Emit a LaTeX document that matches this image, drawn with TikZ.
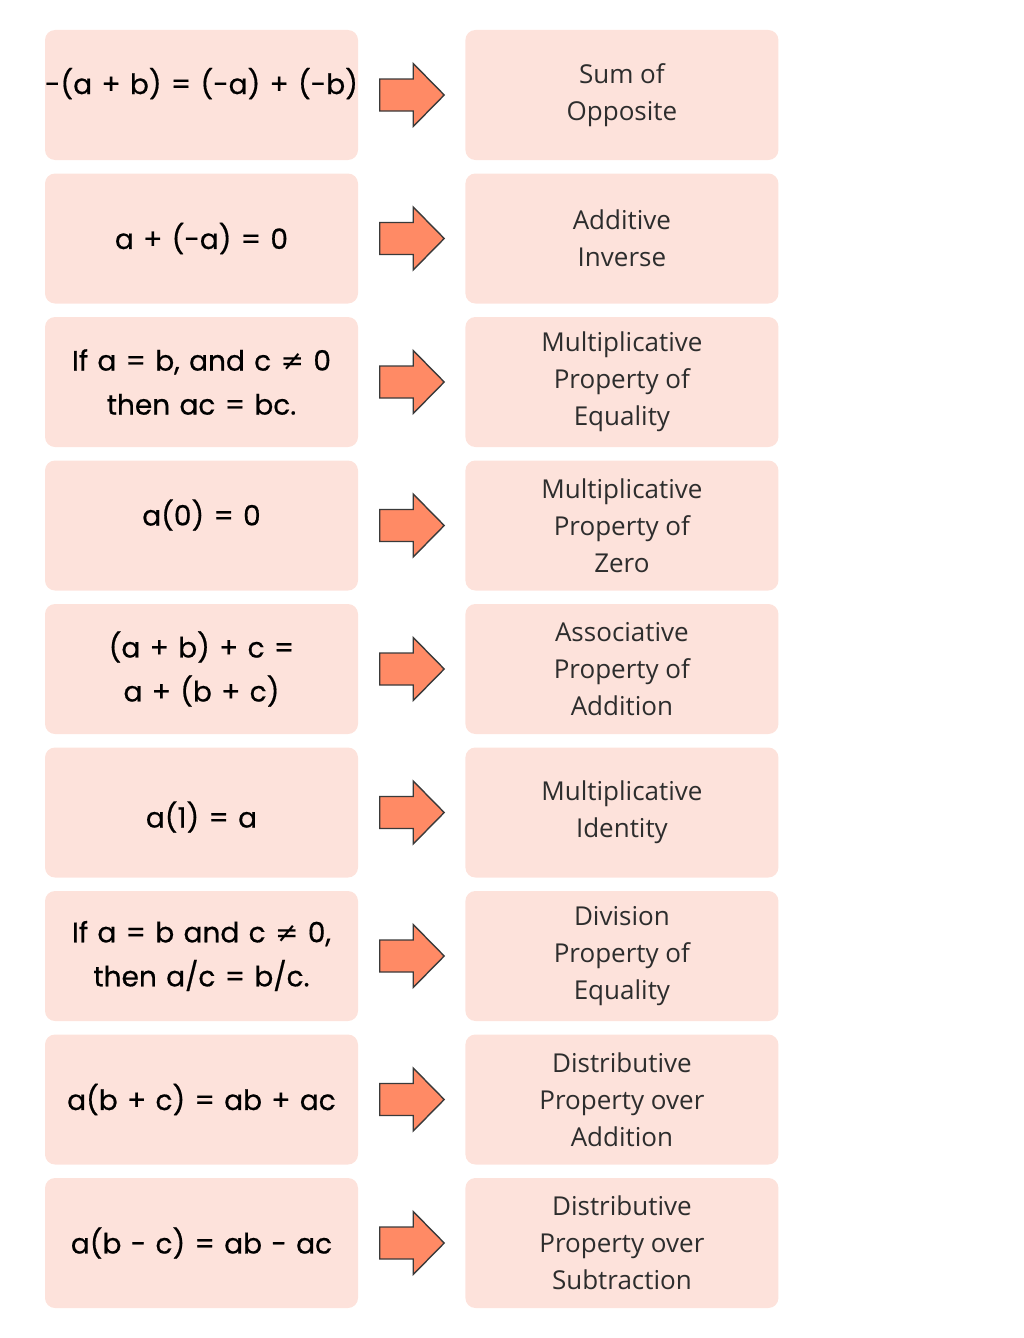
\documentclass[tikz,border=0pt]{standalone}
\usepackage{fontspec}
\usepackage{tikz}
\usepackage{xcolor}
\usetikzlibrary{positioning,calc}
\newfontfamily\eqfamily[FakeBold=0.6,WordSpace={1.25,0.3,0.2}]{Poppins}
\newfontfamily\namefamily{Open Sans}
\newfontfamily\glyphfamily{DejaVu Sans}
\definecolor{cardpink}{RGB}{253,226,219}
\definecolor{arrowsalmon}{RGB}{255,138,101}
\definecolor{arrowedge}{RGB}{58,58,58}
\definecolor{nametext}{RGB}{45,45,45}
\newcommand{\nq}{{\glyphfamily ≠}}

\begin{document}
\begin{tikzpicture}[
    x=1pt,y=-1pt,
    node distance=13.1pt and 107pt,
    card/.style={rectangle,rounded corners=10pt,fill=cardpink,draw=none,
      minimum width=313pt,minimum height=130pt,align=center,inner sep=0pt},
    eqcard/.style={card,font=\eqfamily\fontsize{28}{44}\selectfont},
    namecard/.style={card,text=nametext,font=\namefamily\fontsize{26}{37}\selectfont},
    blockarrow/.style={fill=arrowsalmon,draw=arrowedge,line width=1.4pt,line join=miter}
  ]
    \useasboundingbox (0,0) rectangle (1024,1338);
    % left column: the rules
    \node[eqcard] (eq1) at (201.5,95) {\raisebox{1pt}[0pt][0pt]{-(a + b) = (-a) + (-b)}};
    \node[eqcard,below=of eq1] (eq2) {a + (-a) = 0};
    \node[eqcard,below=of eq2] (eq3) {If a = b, and c \nq{} 0\\then ac = bc.};
    \node[eqcard,below=of eq3] (eq4) {\raisebox{0pt}[0pt][0pt]{a(0) = 0}};
    \node[eqcard,below=of eq4] (eq5) {(a + b) + c =\\a + (b + c)};
    \node[eqcard,below=of eq5] (eq6) {\raisebox{-15pt}[0pt][0pt]{a(1) = a}};
    \node[eqcard,below=of eq6] (eq7) {If a = b and c \nq{} 0,\\then a/c = b/c.};
    \node[eqcard,below=of eq7] (eq8) {a(b + c) = ab + ac};
    \node[eqcard,below=of eq8] (eq9) {a(b - c) = ab - ac};
    % right column: the property names
    \node[namecard,right=of eq1] (nm1) {Sum of\\Opposite};
    \node[namecard,right=of eq2] (nm2) {Additive\\Inverse};
    \node[namecard,right=of eq3] (nm3) {Multiplicative\\Property of\\Equality};
    \node[namecard,right=of eq4] (nm4) {Multiplicative\\Property of\\Zero};
    \node[namecard,right=of eq5] (nm5) {Associative\\Property of\\Addition};
    \node[namecard,right=of eq6] (nm6) {Multiplicative\\Identity};
    \node[namecard,right=of eq7] (nm7) {Division\\Property of\\Equality};
    \node[namecard,right=of eq8] (nm8) {Distributive\\Property over\\Addition};
    \node[namecard,right=of eq9] (nm9) {Distributive\\Property over\\Subtraction};
    % block arrows between the columns
    \foreach \i in {1,...,9}
      \draw[blockarrow] ($(eq\i.east)!.5!(nm\i.west)$) ++(-32,-16) -- ++(33.5,0)
        -- ++(0,-15.5) -- ++(31,31.5) -- ++(-31,31.5) -- ++(0,-15.5)
        -- ++(-33.5,0) -- cycle;
\end{tikzpicture}
\end{document}
